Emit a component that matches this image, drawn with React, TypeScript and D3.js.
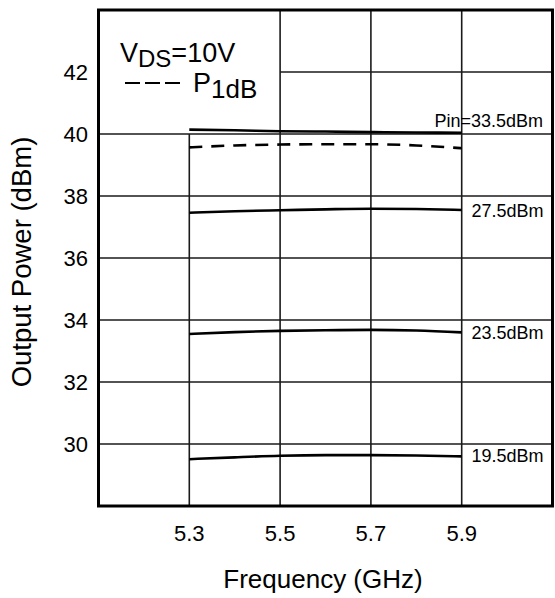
import { scaleLinear, line, curveMonotoneX } from 'd3'

const freqs = [5.3, 5.4, 5.5, 5.6, 5.7, 5.8, 5.9]
const pin335 = [40.14, 40.12, 40.09, 40.08, 40.06, 40.05, 40.04]
const p1dB = [39.57, 39.63, 39.66, 39.67, 39.67, 39.63, 39.54]
const pin275 = [37.46, 37.51, 37.54, 37.57, 37.59, 37.58, 37.55]
const pin235 = [33.55, 33.61, 33.65, 33.67, 33.68, 33.66, 33.6]
const pin195 = [29.51, 29.57, 29.62, 29.64, 29.64, 29.63, 29.6]

const xTicks = [5.3, 5.5, 5.7, 5.9]
const yTicks = [30, 32, 34, 36, 38, 40, 42]
const curveLabels = ['Pin=33.5dBm', '27.5dBm', '23.5dBm', '19.5dBm']

const font = '"Liberation Sans", Arial, Helvetica, sans-serif'

export default function App() {
  const width = 555
  const height = 598
  const left = 98.5
  const right = 552.5
  const top = 10
  const bottom = 506

  const x = scaleLinear().domain([5.1, 6.1]).range([left, right])
  const y = scaleLinear().domain([28, 44]).range([bottom, top])

  const path = line<number>()
    .x((_, i) => x(freqs[i]))
    .y((d) => y(d))
    .curve(curveMonotoneX)

  const solid = [pin335, pin275, pin235, pin195]
  const labelY = [y(pin335[6]) - 6, y(pin275[6]) + 7, y(pin235[6]) + 7, y(pin195[6]) + 6]

  return (
    <svg
      width={width}
      height={height}
      viewBox={`0 0 ${width} ${height}`}
      style={{ position: 'absolute', left: 0, top: 0, background: '#fff', fontFamily: font }}
    >
      {/* vertical grid */}
      {xTicks.map((t) => (
        <line
          key={`v-${t}`}
          x1={x(t)}
          x2={x(t)}
          y1={t === 5.3 ? y(40) : top}
          y2={bottom}
          stroke="#1a1a1a"
          strokeWidth={1.6}
        />
      ))}
      {/* horizontal grid */}
      {yTicks.map((t) => (
        <line
          key={`h-${t}`}
          x1={t === 42 ? x(5.5) : left}
          x2={right}
          y1={y(t)}
          y2={y(t)}
          stroke="#1a1a1a"
          strokeWidth={1.6}
        />
      ))}

      {solid.map((s, k) => (
        <path key={k} d={path(s) ?? ''} fill="none" stroke="#000" strokeWidth={2.6} />
      ))}
      <path d={path(p1dB) ?? ''} fill="none" stroke="#000" strokeWidth={2.6} strokeDasharray="13 9" />

      <rect x={left} y={top} width={right - left} height={bottom - top} fill="none" stroke="#000" strokeWidth={3} />

      {/* curve labels */}
      <text x={543} y={labelY[0]} textAnchor="end" fontSize={18}>
        {curveLabels[0]}
      </text>
      {curveLabels.slice(1).map((l, k) => (
        <text key={l} x={471.5} y={labelY[k + 1]} fontSize={18}>
          {l}
        </text>
      ))}

      {/* legend */}
      <text x={120} y={61.5} fontSize={27}>
        V<tspan fontSize={24} dy={5}>DS</tspan>
        <tspan dy={-5}>=10V</tspan>
      </text>
      <line x1={125} x2={180} y1={83} y2={83} stroke="#000" strokeWidth={2} strokeDasharray="15 5" />
      <text x={193} y={91.5} fontSize={27}>
        P<tspan fontSize={26} dy={6.5}>1dB</tspan>
      </text>

      {/* y ticks */}
      {yTicks.map((t) => (
        <text key={`yt-${t}`} x={88} y={y(t) + 2.5} textAnchor="end" dominantBaseline="middle" fontSize={22}>
          {t}
        </text>
      ))}
      {/* x ticks */}
      {xTicks.map((t) => (
        <text key={`xt-${t}`} x={x(t)} y={540.5} textAnchor="middle" fontSize={22}>
          {t.toFixed(1)}
        </text>
      ))}

      <text x={323} y={588} textAnchor="middle" fontSize={26}>
        Frequency (GHz)
      </text>
      <text transform={`translate(31,262) rotate(-90)`} textAnchor="middle" fontSize={27.5}>
        Output Power (dBm)
      </text>
    </svg>
  )
}
